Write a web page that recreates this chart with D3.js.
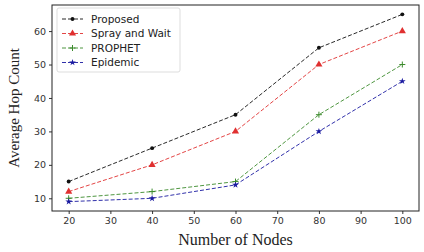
<!DOCTYPE html>
<html>
<head>
<meta charset="utf-8">
<script src="https://cdn.jsdelivr.net/npm/d3@7"></script>
<style>
  body { margin: 0; background: #fff; }
  svg { display: block; }
</style>
</head>
<body>
<svg id="chart"></svg>
<script>
const width = 424;
const height = 252;

// data
const nodes = [20, 40, 60, 80, 100];
const proposed = [15, 25, 35, 55, 65];
const sprayAndWait = [12, 20, 30, 50, 60];
const prophet = [10, 12, 15, 35, 50];
const epidemic = [9, 10, 14, 30, 45];
const xTicks = [20, 30, 40, 50, 60, 70, 80, 90, 100];
const yTicks = [10, 20, 30, 40, 50, 60];

const series = [
  { name: "Proposed", values: proposed, color: "#111", marker: "dot" },
  { name: "Spray and Wait", values: sprayAndWait, color: "#e03030", marker: "tri" },
  { name: "PROPHET", values: prophet, color: "#3a8a2a", marker: "plus" },
  { name: "Epidemic", values: epidemic, color: "#1a1aa0", marker: "star" }
];

const margin = { top: 5, right: 5, bottom: 41, left: 52 };
const plotW = width - margin.left - margin.right;
const plotH = height - margin.top - margin.bottom;

const svg = d3.select("#chart")
  .attr("width", width)
  .attr("height", height);

const g = svg.append("g")
  .attr("transform", `translate(${margin.left},${margin.top})`);

const x = d3.scaleLinear().domain([16, 104]).range([0, plotW]);
const y = d3.scaleLinear().domain([6.2, 67.8]).range([plotH, 0]);

// axes
const xAxis = g.append("g")
  .attr("transform", `translate(0,${plotH})`)
  .call(d3.axisBottom(x).tickValues(xTicks).tickSize(3).tickPadding(3));
const yAxis = g.append("g")
  .call(d3.axisLeft(y).tickValues(yTicks).tickSize(3).tickPadding(3));

[xAxis, yAxis].forEach(a => {
  a.select(".domain").remove();
  a.selectAll("text")
    .attr("font-family", "DejaVu Sans, sans-serif")
    .attr("font-size", 9.5)
    .attr("fill", "#333");
  a.selectAll("line").attr("stroke", "#333");
});

g.append("rect")
  .attr("width", plotW)
  .attr("height", plotH)
  .attr("fill", "none")
  .attr("stroke", "#222")
  .attr("stroke-width", 1);

// lines
const line = d3.line()
  .x((d, i) => x(nodes[i]))
  .y(d => y(d));

function drawMarker(sel, type, color) {
  if (type === "dot") {
    sel.append("path")
      .attr("d", d3.symbol(d3.symbolCircle, 12)())
      .attr("fill", color);
  } else if (type === "tri") {
    sel.append("path")
      .attr("d", d3.symbol(d3.symbolTriangle, 22)())
      .attr("fill", color);
  } else if (type === "plus") {
    sel.append("path")
      .attr("d", "M-3,0H3M0,-3V3")
      .attr("stroke", color)
      .attr("stroke-width", 1);
  } else {
    sel.append("path")
      .attr("d", d3.symbol(d3.symbolStar, 14)())
      .attr("fill", color);
  }
}

series.forEach(s => {
  g.append("path")
    .datum(s.values)
    .attr("d", line)
    .attr("fill", "none")
    .attr("stroke", s.color)
    .attr("stroke-width", 0.9)
    .attr("stroke-dasharray", "4,2");

  s.values.forEach((v, i) => {
    const m = g.append("g")
      .attr("transform", `translate(${x(nodes[i])},${y(v)})`);
    drawMarker(m, s.marker, s.color);
  });
});

// legend
const legend = g.append("g").attr("transform", "translate(5,3)");
legend.append("rect")
  .attr("width", 123)
  .attr("height", 64)
  .attr("rx", 2)
  .attr("fill", "#fff")
  .attr("stroke", "#ddd");

series.forEach((s, i) => {
  const row = legend.append("g")
    .attr("transform", `translate(0,${11 + i * 14.5})`);
  row.append("line")
    .attr("x1", 5).attr("x2", 26)
    .attr("stroke", s.color)
    .attr("stroke-width", 0.9)
    .attr("stroke-dasharray", "4,2");
  const m = row.append("g").attr("transform", "translate(15.5,0)");
  drawMarker(m, s.marker, s.color);
  row.append("text")
    .attr("x", 34)
    .attr("dy", "0.35em")
    .attr("font-family", "DejaVu Sans, sans-serif")
    .attr("font-size", 10.5)
    .attr("fill", "#222")
    .text(s.name);
});

// axis titles
svg.append("text")
  .attr("x", margin.left + plotW / 2)
  .attr("y", 245)
  .attr("text-anchor", "middle")
  .attr("font-family", "Liberation Serif, Times New Roman, serif")
  .attr("font-size", 16)
  .attr("fill", "#222")
  .text("Number of Nodes");

svg.append("text")
  .attr("transform", `translate(19,${margin.top + plotH / 2}) rotate(-90)`)
  .attr("text-anchor", "middle")
  .attr("font-family", "Liberation Serif, Times New Roman, serif")
  .attr("font-size", 15)
  .attr("fill", "#222")
  .text("Average Hop Count");
</script>
</body>
</html>
